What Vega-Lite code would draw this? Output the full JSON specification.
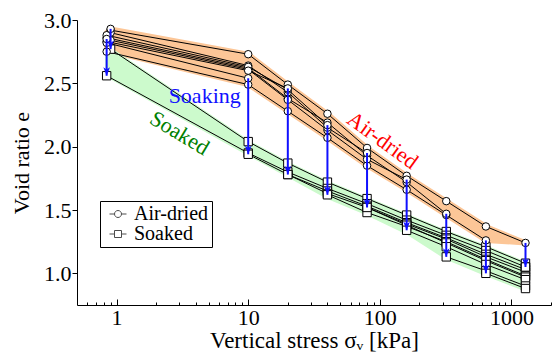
{
  "$schema": "https://vega.github.io/schema/vega-lite/v6.json",
  "autosize": {"type": "none"},
  "width": 474,
  "height": 285,
  "padding": {"left": 77, "top": 20, "right": 3, "bottom": 58},
  "config": {
    "view": {"stroke": null},
    "font": "Liberation Serif",
    "axis": {"labelFont": "Liberation Serif", "titleFont": "Liberation Serif", "labelColor": "black", "titleColor": "black", "domainColor": "black", "tickColor": "black", "titleFontWeight": "normal", "grid": false},
    "legend": {"labelFont": "Liberation Serif"},
    "text": {"font": "Liberation Serif"}
  },
  "datasets": {
    "air": [
      {"test": "T1280", "s": 0.9, "e": 2.92}, {"test": "T1280", "s": 10, "e": 2.73}, {"test": "T1280", "s": 20, "e": 2.49}, {"test": "T1280", "s": 40, "e": 2.26}, {"test": "T1280", "s": 80, "e": 1.99}, {"test": "T1280", "s": 160, "e": 1.77}, {"test": "T1280", "s": 320, "e": 1.57}, {"test": "T1280", "s": 640, "e": 1.37}, {"test": "T1280", "s": 1280, "e": 1.24},
      {"test": "T640", "s": 0.84, "e": 2.75}, {"test": "T640", "s": 10, "e": 2.49}, {"test": "T640", "s": 20, "e": 2.28}, {"test": "T640", "s": 40, "e": 2.07}, {"test": "T640", "s": 80, "e": 1.85}, {"test": "T640", "s": 160, "e": 1.66}, {"test": "T640", "s": 320, "e": 1.46}, {"test": "T640", "s": 640, "e": 1.26},
      {"test": "T320", "s": 0.84, "e": 2.86}, {"test": "T320", "s": 10, "e": 2.62}, {"test": "T320", "s": 20, "e": 2.38}, {"test": "T320", "s": 40, "e": 2.19}, {"test": "T320", "s": 80, "e": 1.93}, {"test": "T320", "s": 160, "e": 1.72}, {"test": "T320", "s": 320, "e": 1.47},
      {"test": "T160", "s": 0.9, "e": 2.84}, {"test": "T160", "s": 10, "e": 2.61}, {"test": "T160", "s": 20, "e": 2.37}, {"test": "T160", "s": 40, "e": 2.13}, {"test": "T160", "s": 80, "e": 1.9}, {"test": "T160", "s": 160, "e": 1.74},
      {"test": "T80", "s": 0.9, "e": 2.9}, {"test": "T80", "s": 10, "e": 2.64}, {"test": "T80", "s": 20, "e": 2.43}, {"test": "T80", "s": 40, "e": 2.15}, {"test": "T80", "s": 80, "e": 1.95},
      {"test": "T40", "s": 0.84, "e": 2.88}, {"test": "T40", "s": 10, "e": 2.63}, {"test": "T40", "s": 20, "e": 2.45}, {"test": "T40", "s": 40, "e": 2.17},
      {"test": "T20", "s": 0.84, "e": 2.83}, {"test": "T20", "s": 10, "e": 2.6}, {"test": "T20", "s": 20, "e": 2.46},
      {"test": "T10", "s": 0.84, "e": 2.82}, {"test": "T10", "s": 10, "e": 2.54},
      {"test": "TB", "s": 0.9, "e": 2.93},
      {"test": "TA", "s": 0.84, "e": 2.85}
    ],
    "soak": [
      {"test": "TB", "s": 0.9, "e": 2.77}, {"test": "TB", "s": 10, "e": 2.04}, {"test": "TB", "s": 20, "e": 1.87}, {"test": "TB", "s": 40, "e": 1.72}, {"test": "TB", "s": 80, "e": 1.59}, {"test": "TB", "s": 160, "e": 1.46}, {"test": "TB", "s": 320, "e": 1.33}, {"test": "TB", "s": 640, "e": 1.21}, {"test": "TB", "s": 1280, "e": 1.08},
      {"test": "TA", "s": 0.84, "e": 2.56}, {"test": "TA", "s": 10, "e": 1.95}, {"test": "TA", "s": 20, "e": 1.8}, {"test": "TA", "s": 40, "e": 1.67}, {"test": "TA", "s": 80, "e": 1.55}, {"test": "TA", "s": 160, "e": 1.42}, {"test": "TA", "s": 320, "e": 1.3}, {"test": "TA", "s": 640, "e": 1.18}, {"test": "TA", "s": 1280, "e": 1.05},
      {"test": "T10", "s": 10, "e": 1.94}, {"test": "T10", "s": 20, "e": 1.78}, {"test": "T10", "s": 40, "e": 1.65}, {"test": "T10", "s": 80, "e": 1.53}, {"test": "T10", "s": 160, "e": 1.4}, {"test": "T10", "s": 320, "e": 1.28}, {"test": "T10", "s": 640, "e": 1.15}, {"test": "T10", "s": 1280, "e": 1.03},
      {"test": "T20", "s": 20, "e": 1.78}, {"test": "T20", "s": 40, "e": 1.63}, {"test": "T20", "s": 80, "e": 1.52}, {"test": "T20", "s": 160, "e": 1.39}, {"test": "T20", "s": 320, "e": 1.27}, {"test": "T20", "s": 640, "e": 1.13}, {"test": "T20", "s": 1280, "e": 1.01},
      {"test": "T40", "s": 40, "e": 1.62}, {"test": "T40", "s": 80, "e": 1.48}, {"test": "T40", "s": 160, "e": 1.37}, {"test": "T40", "s": 320, "e": 1.25}, {"test": "T40", "s": 640, "e": 1.11}, {"test": "T40", "s": 1280, "e": 0.98},
      {"test": "T80", "s": 80, "e": 1.52}, {"test": "T80", "s": 160, "e": 1.38}, {"test": "T80", "s": 320, "e": 1.24}, {"test": "T80", "s": 640, "e": 1.1}, {"test": "T80", "s": 1280, "e": 0.97},
      {"test": "T160", "s": 160, "e": 1.34}, {"test": "T160", "s": 320, "e": 1.21}, {"test": "T160", "s": 640, "e": 1.07}, {"test": "T160", "s": 1280, "e": 0.95},
      {"test": "T320", "s": 320, "e": 1.13}, {"test": "T320", "s": 640, "e": 1.02}, {"test": "T320", "s": 1280, "e": 0.9},
      {"test": "T640", "s": 640, "e": 1.0}, {"test": "T640", "s": 1280, "e": 0.88},
      {"test": "T1280", "s": 1280, "e": 1.05}
    ],
    "arrows": [
      {"s": 0.9, "e1": 2.93, "e2": 2.77}, {"s": 0.84, "e1": 2.85, "e2": 2.56}, {"s": 10, "e1": 2.54, "e2": 1.94}, {"s": 20, "e1": 2.46, "e2": 1.78}, {"s": 40, "e1": 2.17, "e2": 1.62}, {"s": 80, "e1": 1.95, "e2": 1.52}, {"s": 160, "e1": 1.74, "e2": 1.34}, {"s": 320, "e1": 1.47, "e2": 1.13}, {"s": 640, "e1": 1.26, "e2": 1.0}, {"s": 1280, "e1": 1.24, "e2": 1.05}
    ],
    "orange": [
      {"s": 0.84, "lo": 2.75, "hi": 2.9}, {"s": 0.9, "lo": 2.75, "hi": 2.93}, {"s": 10, "lo": 2.49, "hi": 2.73}, {"s": 20, "lo": 2.28, "hi": 2.49}, {"s": 40, "lo": 2.07, "hi": 2.26}, {"s": 80, "lo": 1.85, "hi": 1.99}, {"s": 160, "lo": 1.66, "hi": 1.77}, {"s": 320, "lo": 1.46, "hi": 1.57}, {"s": 640, "lo": 1.26, "hi": 1.37}, {"s": 1280, "lo": 1.24, "hi": 1.24}
    ],
    "green": [
      {"s": 0.84, "lo": 2.56, "hi": 2.72}, {"s": 0.9, "lo": 2.545, "hi": 2.77}, {"s": 10, "lo": 1.94, "hi": 2.04}, {"s": 20, "lo": 1.77, "hi": 1.87}, {"s": 40, "lo": 1.6, "hi": 1.72}, {"s": 80, "lo": 1.47, "hi": 1.59}, {"s": 160, "lo": 1.32, "hi": 1.46}, {"s": 320, "lo": 1.12, "hi": 1.33}, {"s": 640, "lo": 0.99, "hi": 1.21}, {"s": 1280, "lo": 0.87, "hi": 1.08}
    ],
    "legend": [{"type": "Air-dried"}, {"type": "Soaked"}]
  },
  "resolve": {"axis": {"x": "independent"}},
  "layer": [
    {
      "data": {"name": "orange"},
      "mark": {"type": "area", "color": "#FCC697", "stroke": "#FCC697", "strokeWidth": 5, "strokeJoin": "round"},
      "encoding": {
        "x": {"field": "s", "type": "quantitative", "scale": {"type": "log", "domain": [0.5, 2000], "nice": false},
          "axis": {"orient": "bottom", "values": [1, 10, 100, 1000], "format": "d", "tickSize": -6, "labelPadding": 8, "labelFontSize": 22, "domainColor": "black", "title": "Vertical stress σᵥ [kPa]", "titleFontSize": 23, "titlePadding": 1}},
        "y": {"field": "lo", "type": "quantitative", "scale": {"domain": [0.75, 3.0], "nice": false, "zero": false},
          "axis": {"values": [1, 1.25, 1.5, 1.75, 2, 2.25, 2.5, 2.75, 3], "labelExpr": "(datum.value * 2) % 1 == 0 ? format(datum.value, '.1f') : ''", "tickSize": 5, "labelPadding": 1, "labelFontSize": 22, "title": "Void ratio e", "titleFontSize": 22, "titlePadding": 10}},
        "y2": {"field": "hi"}
      }
    },
    {
      "data": {"name": "green"},
      "mark": {"type": "area", "color": "#CCFACC", "stroke": "#CCFACC", "strokeWidth": 3, "strokeJoin": "round"},
      "encoding": {
        "x": {"field": "s", "type": "quantitative", "axis": {"orient": "bottom", "values": [0.6, 0.7, 0.8, 0.9, 2, 3, 4, 5, 6, 7, 8, 9, 20, 30, 40, 50, 60, 70, 80, 90, 200, 300, 400, 500, 600, 700, 800, 900, 2000], "labels": false, "domain": false, "tickSize": -3, "title": null}},
        "y": {"field": "lo", "type": "quantitative"},
        "y2": {"field": "hi"}
      }
    },
    {
      "data": {"name": "air"},
      "mark": {"type": "line", "color": "black", "strokeWidth": 1},
      "encoding": {
        "x": {"field": "s", "type": "quantitative", "axis": null},
        "y": {"field": "e", "type": "quantitative"},
        "detail": {"field": "test"},
        "order": {"field": "s"}
      }
    },
    {
      "data": {"name": "soak"},
      "mark": {"type": "line", "color": "black", "strokeWidth": 1},
      "encoding": {
        "x": {"field": "s", "type": "quantitative", "axis": null},
        "y": {"field": "e", "type": "quantitative"},
        "detail": {"field": "test"},
        "order": {"field": "s"}
      }
    },
    {
      "data": {"name": "soak"},
      "mark": {"type": "point", "shape": "square", "size": 70, "filled": true, "fill": "white", "stroke": "black", "strokeWidth": 1, "opacity": 1},
      "encoding": {
        "x": {"field": "s", "type": "quantitative", "axis": null},
        "y": {"field": "e", "type": "quantitative"}
      }
    },
    {
      "data": {"name": "air"},
      "mark": {"type": "point", "shape": "circle", "size": 56, "filled": true, "fill": "white", "stroke": "black", "strokeWidth": 1, "opacity": 1},
      "encoding": {
        "x": {"field": "s", "type": "quantitative", "axis": null},
        "y": {"field": "e", "type": "quantitative"}
      }
    },
    {
      "data": {"name": "arrows"},
      "mark": {"type": "rule", "color": "#1010FF", "strokeWidth": 2},
      "encoding": {
        "x": {"field": "s", "type": "quantitative", "axis": null},
        "y": {"field": "e1", "type": "quantitative"},
        "y2": {"field": "e2"}
      }
    },
    {
      "data": {"name": "arrows"},
      "mark": {"type": "point", "shape": "M0,0L-0.7,-1.8L0,-1.3L0.7,-1.8Z", "size": 90, "filled": true, "color": "#1010FF", "opacity": 1},
      "encoding": {
        "x": {"field": "s", "type": "quantitative", "axis": null},
        "y": {"field": "e2", "type": "quantitative"}
      }
    },
    {
      "data": {"values": [{"s": 4.67, "e": 2.4, "label": "Soaking"}]},
      "mark": {"type": "text", "font": "Liberation Serif", "fontSize": 22, "color": "#1010FF", "align": "center", "baseline": "middle"},
      "encoding": {
        "x": {"field": "s", "type": "quantitative", "axis": null},
        "y": {"field": "e", "type": "quantitative"},
        "text": {"field": "label"}
      }
    },
    {
      "data": {"values": [{"s": 105, "e": 2.05, "label": "Air-dried"}]},
      "mark": {"type": "text", "font": "Liberation Serif", "fontSize": 22, "color": "#FF0000", "align": "center", "baseline": "middle", "angle": 36},
      "encoding": {
        "x": {"field": "s", "type": "quantitative", "axis": null},
        "y": {"field": "e", "type": "quantitative"},
        "text": {"field": "label"}
      }
    },
    {
      "data": {"values": [{"s": 3.01, "e": 2.107, "label": "Soaked"}]},
      "mark": {"type": "text", "font": "Liberation Serif", "fontSize": 22, "color": "#008000", "align": "center", "baseline": "middle", "angle": 31},
      "encoding": {
        "x": {"field": "s", "type": "quantitative", "axis": null},
        "y": {"field": "e", "type": "quantitative"},
        "text": {"field": "label"}
      }
    },
    {
      "data": {"name": "legend"},
      "mark": {"type": "point", "filled": false, "color": "black", "strokeWidth": 1},
      "encoding": {
        "x": {"field": "s", "type": "quantitative", "axis": null},
        "y": {"field": "e", "type": "quantitative"},
        "shape": {"field": "type", "type": "nominal",
          "scale": {"domain": ["Air-dried", "Soaked"], "range": ["M-1.7,0H-0.7M0.7,0H1.7M0.7,0A0.7,0.7,0,1,1,-0.7,0A0.7,0.7,0,1,1,0.7,0Z", "M-1.7,0H-0.7M0.7,0H1.7M-0.7,-0.7H0.7V0.7H-0.7Z"]},
          "legend": {"title": null, "orient": "none", "legendX": 23, "legendY": 181, "padding": 3, "strokeColor": "black", "fillColor": "white", "cornerRadius": 0, "symbolSize": 100, "symbolStrokeColor": "black", "symbolStrokeWidth": 1, "symbolFillColor": "white", "symbolOffset": 5, "labelOffset": 6, "labelFontSize": 20, "labelColor": "black", "rowPadding": 0, "labelLimit": 200}}
      }
    }
  ]
}
